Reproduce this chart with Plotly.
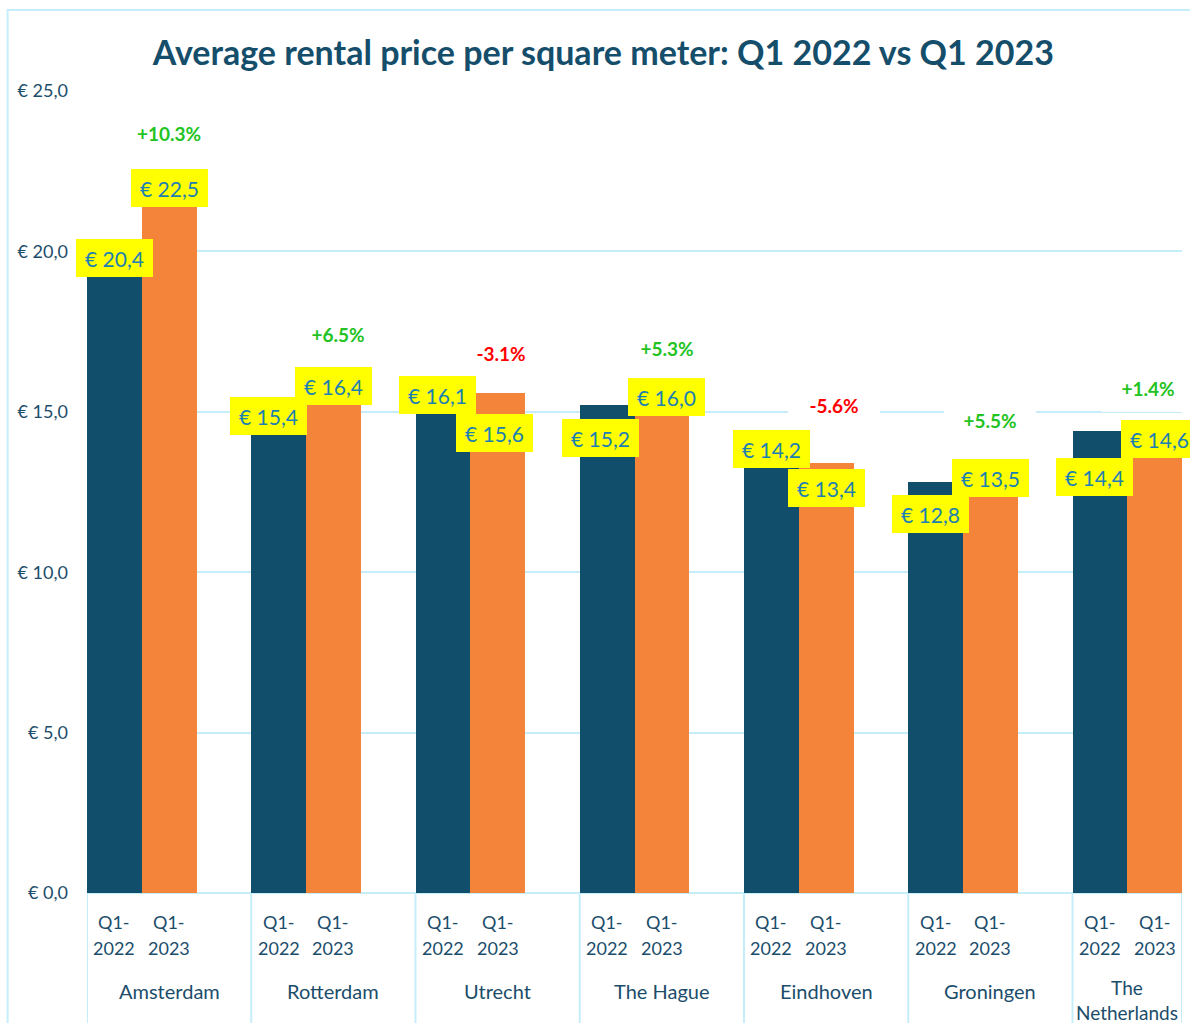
import plotly.graph_objects as go

# ---------------- data ----------------
cities = ["Amsterdam", "Rotterdam", "Utrecht", "The Hague", "Eindhoven", "Groningen", "The<br>Netherlands"]
period_top = ["Q1-", "Q1-"]
period_bottom = ["2022", "2023"]
price_2022 = [20.4, 15.4, 16.1, 15.2, 14.2, 12.8, 14.4]
price_2023 = [22.5, 16.4, 15.6, 16.0, 13.4, 13.5, 14.6]
y_ticks = [0, 5, 10, 15, 20, 25]
y_tick_text = ["€ 0,0", "€ 5,0", "€ 10,0", "€ 15,0", "€ 20,0", "€ 25,0"]

# ---------------- label placement (pixel offsets) ----------------
lab22_dx = [0, -10, -5, -7, 0, -5, -5]
lab22_dy = [-19, -17, -18, -33, -12, -32, -46]
lab23_dx = [0, 0, -3, 5, 0, 0, 5]
lab23_dy = [-17, -19, -40, -17, -25, -18, -14]
pct_dx = [0, 5, 3, 5, 8, 0, -7]
pct_dy = [38, 33, 40, 32, 58, 40, 37]

DARK = "#114e6b"
ORANGE = "#f3843a"
GRID = "#c6eefa"
TEXT = "#1b4d6b"
LABEL = "#1c80b2"
FONT = "Lato"

n = len(cities)
x22 = [3 * i for i in range(n)]
x23 = [3 * i + 1 for i in range(n)]
x_max = 3 * n - 1.5

fig = go.Figure()
fig.add_trace(go.Bar(x=x22, y=price_2022, width=1, marker=dict(color=DARK, line=dict(width=0)),
                     name="Q1-2022", showlegend=False))
fig.add_trace(go.Bar(x=x23, y=price_2023, width=1, marker=dict(color=ORANGE, line=dict(width=0)),
                     name="Q1-2023", showlegend=False))

annotations = []
# percentage change labels
for i in range(n):
    ch = (price_2023[i] / price_2022[i] - 1) * 100
    txt = f"{ch:+.1f}%"
    col = "#22c322" if ch >= 0 else "#ff0000"
    annotations.append(dict(x=x23[i], y=price_2023[i], xref="x", yref="y", text=f"<b>{txt}</b>",
                            showarrow=False, xshift=pct_dx[i], yshift=pct_dy[i],
                            font=dict(family=FONT, size=19, color=col),
                            bgcolor="white", width=92, height=48, borderpad=0, borderwidth=0))
# value labels
for i in range(n):
    for xv, val, dx, dy in ((x22[i], price_2022[i], lab22_dx[i], lab22_dy[i]),
                            (x23[i], price_2023[i], lab23_dx[i], lab23_dy[i])):
        annotations.append(dict(x=xv, y=val, xref="x", yref="y",
                                text="€ " + f"{val:.1f}".replace(".", ","),
                                showarrow=False, xshift=dx, yshift=dy,
                                font=dict(family=FONT, size=21, color=LABEL),
                                bgcolor="#ffff00", width=75, height=36, borderpad=1, borderwidth=0))
# category labels
for i in range(n):
    for j, xv in enumerate((x22[i], x23[i])):
        annotations.append(dict(x=xv, y=0, xref="x", yref="paper", yanchor="middle",
                                text=period_top[j], showarrow=False, yshift=-29,
                                font=dict(family=FONT, size=18, color=TEXT)))
        annotations.append(dict(x=xv, y=0, xref="x", yref="paper", yanchor="middle",
                                text=period_bottom[j], showarrow=False, yshift=-55,
                                font=dict(family=FONT, size=18, color=TEXT)))
    cx = min(3 * i + 1, (3 * i - 0.5 + x_max) / 2)
    last = i == n - 1
    annotations.append(dict(x=cx, y=0, xref="x", yref="paper", yanchor="top",
                            text=cities[i], showarrow=False, yshift=-81 if last else -84,
                            font=dict(family=FONT, size=19 if last else 20, color=TEXT)))

shapes = []
for i in range(n):
    shapes.append(dict(type="line", xref="x", yref="paper", x0=3 * i - 0.5, x1=3 * i - 0.5,
                       y0=0, y1=-0.25, line=dict(color=GRID, width=2), layer="below"))
shapes.append(dict(type="line", xref="x", yref="paper", x0=x_max, x1=x_max,
                   y0=0, y1=-0.25, line=dict(color=GRID, width=2), layer="below"))
# outer chart frame
shapes.append(dict(type="rect", xref="paper", yref="paper", x0=-0.0725, x1=1.02, y0=-0.3, y1=1.101,
                   line=dict(color=GRID, width=2), fillcolor="rgba(0,0,0,0)", layer="below"))

fig.update_layout(
    width=1190, height=1023,
    margin=dict(l=87, r=8, t=91, b=130),
    paper_bgcolor="white", plot_bgcolor="white",
    bargap=0,
    title=dict(text="<b>Average rental price per square meter: Q1 2022 vs Q1 2023</b>",
               x=0.507, xanchor="center", y=1 - 53 / 1023, yanchor="middle", yref="container",
               font=dict(family=FONT, size=34, color="#154e6b")),
    xaxis=dict(range=[-0.5, x_max], showticklabels=False, showgrid=False, zeroline=False,
               showline=False, ticks=""),
    yaxis=dict(range=[0, 25], tickvals=y_ticks, ticktext=y_tick_text,
               showgrid=True, gridcolor=GRID, gridwidth=2, zeroline=True, zerolinecolor=GRID,
               zerolinewidth=2, showline=False, ticks="", ticklabelstandoff=18,
               tickfont=dict(family=FONT, size=18, color=TEXT)),
    annotations=annotations,
    shapes=shapes,
    showlegend=False,
)

fig.write_html("out.html", config={"displayModeBar": False},
               post_script="document.body.style.margin='0';document.body.style.padding='0';")
